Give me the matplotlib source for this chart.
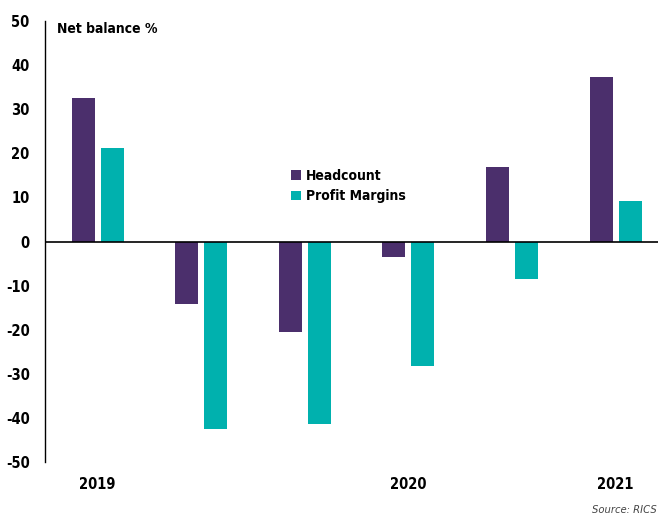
import matplotlib
matplotlib.use("Agg")
from matplotlib import pyplot as plt
import numpy as np

plt.rcParams['font.family'] = ['DejaVu Sans']
plt.rcParams['font.stretch'] = 'condensed'

# datos
periodos = ["2019", "", "", "2020", "", "2021"]
headcount = [32.6, -14.1, -20.6, -3.4, 16.8, 37.4]
profit_margins = [21.2, -42.6, -41.3, -28.2, -8.6, 9.1]
y_ticks = [50, 40, 30, 20, 10, 0, -10, -20, -30, -40, -50]

color_head = "#4B2F6C"
color_profit = "#00B1AE"

fig = plt.figure(figsize=(6.58, 5.15), dpi=100)
ax = fig.add_axes([0.0684, 0.1029, 0.9316, 0.8561])

x = np.arange(len(periodos))
ancho = 0.222
ax.bar(x - 0.14, headcount, ancho, color=color_head, label="Headcount")
ax.bar(x + 0.14, profit_margins, ancho, color=color_profit, label="Profit Margins")

ax.set_xlim(-0.507, 5.41)
ax.set_ylim(-50, 50)
ax.set_yticks(y_ticks)
ax.set_yticklabels([str(t) for t in y_ticks], fontsize=10.5, fontweight='bold')
ax.set_xticks(x)
ax.set_xticklabels(periodos, fontsize=10.5, fontweight='bold')
ax.tick_params(axis='both', length=0)
ax.tick_params(axis='y', pad=11)
ax.tick_params(axis='x', pad=11)

for s in ['top', 'right', 'bottom']:
    ax.spines[s].set_visible(False)
ax.spines['left'].set_color('black')
ax.spines['left'].set_linewidth(1)
ax.axhline(0, color='black', linewidth=1.2)

ax.text(0.02, 0.998, "Net balance %", transform=ax.transAxes, fontsize=10,
        fontweight='bold', va='top', ha='left')

ax.legend(loc='center left', bbox_to_anchor=(0.381, 0.626), frameon=False,
          prop={'weight': 'bold', 'size': 10, 'stretch': 'condensed'},
          handlelength=0.7, handleheight=0.7, handletextpad=0.4, labelspacing=0.5)

fig.text(0.998, 0.0, "Source: RICS", fontsize=8, style='italic', color='#444444',
         ha='right', va='bottom')

fig.savefig("out.png", dpi=100)
